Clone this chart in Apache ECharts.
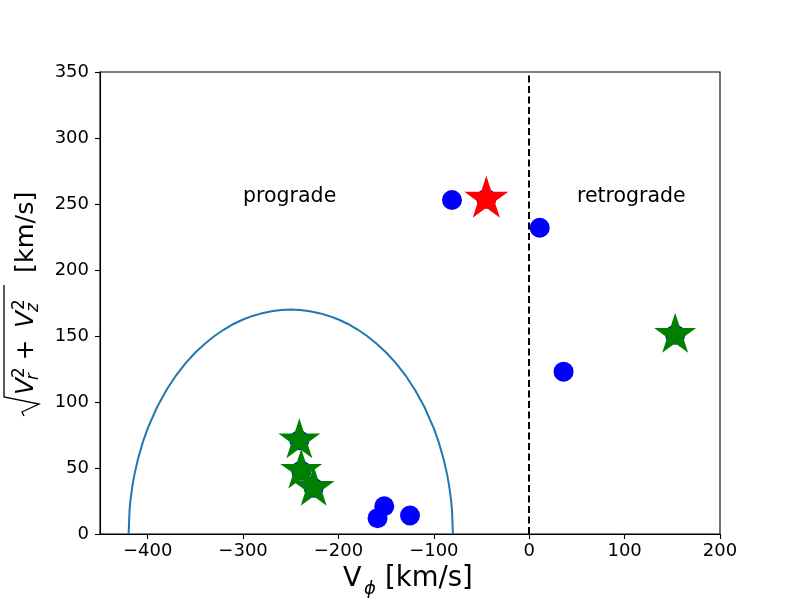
<!DOCTYPE html>
<html>
<head>
<meta charset="utf-8">
<script src="https://cdn.jsdelivr.net/npm/echarts@6/dist/echarts.min.js"></script>
<style>
  html, body { margin: 0; padding: 0; background: #fff; }
  #main { width: 800px; height: 600px; }
</style>
</head>
<body>
<div id="main"></div>
<script>
// tick labels
var xTicks = [-400, -300, -200, -100, 0, 100, 200];

// blue circles (some lie under the stars)
var blueX = [-81, 11, 36, -152, -159, -125, -45, 153, -241, -239, -226];
var blueY = [253, 232, 123, 21, 12, 14, 254, 151, 71, 48, 35];

// red star
var redX = [-45];
var redY = [254];

// green stars
var greenX = [153, -241, -239, -226];
var greenY = [151, 71, 48, 35];

// boundary curve
var curveX = [-420, -419, -418, -416, -414, -410, -405, -400, -390, -380, -370, -360, -350, -340, -330, -320, -310, -300, -290, -280, -270, -260, -250,
              -240, -230, -220, -210, -200, -190, -180, -170, -160, -150, -140, -130, -120, -110, -100, -95, -90, -86, -84, -82, -81, -80];
var curveY = [0, 18.4, 26, 36.7, 44.8, 57.4, 69.8, 80, 96.4, 109.5, 120.4, 129.6, 137.5, 144.2, 150, 154.9, 159.1, 162.5, 165.2, 167.3, 168.8, 169.7, 170,
              169.7, 168.8, 167.3, 165.2, 162.5, 159.1, 154.9, 150, 144.2, 137.5, 129.6, 120.4, 109.5, 96.4, 80, 69.8, 57.4, 44.8, 36.7, 26, 18.4, 0];

// region labels
var regionX = [-300, 50];
var regionY = [250, 250];
var regionText = ['prograde', 'retrograde'];

function pairs(xs, ys) {
    var out = [];
    for (var i = 0; i < xs.length; i++) out.push([xs[i], ys[i]]);
    return out;
}

var FONT = 'DejaVu Sans';
// 5-point star like matplotlib's '*' marker
var starPath = 'path://M50,0L61.23,34.55L97.55,34.55L68.17,55.9L79.39,90.45L50,69.1L20.61,90.45L31.83,55.9L2.45,34.55L38.77,34.55Z';

function tickFmt(v) {
    return v < 0 ? '\u2212' + Math.abs(v) : String(v);
}

var regionData = [];
for (var i = 0; i < regionX.length; i++) regionData.push([regionX[i], regionY[i], regionText[i]]);

var option = {
    backgroundColor: '#ffffff',
    animation: false,
    grid: {
        left: 100, right: 80, top: 72, bottom: 66,
        show: true, borderColor: '#000', borderWidth: 1.1, backgroundColor: 'transparent'
    },
    xAxis: {
        type: 'value',
        min: -450, max: 200,
        axisLine: { show: true, onZero: false, lineStyle: { color: '#000', width: 1.1 } },
        axisTick: { show: true, length: 5, customValues: xTicks, lineStyle: { color: '#000', width: 1.1 } },
        axisLabel: { customValues: xTicks, formatter: tickFmt, color: '#000', fontSize: 18, fontFamily: FONT, margin: 8 },
        splitLine: { show: false }
    },
    yAxis: {
        type: 'value',
        min: 0, max: 350, interval: 50,
        axisLine: { show: true, onZero: false, lineStyle: { color: '#000', width: 1.1 } },
        axisTick: { show: true, length: 5, lineStyle: { color: '#000', width: 1.1 } },
        axisLabel: { color: '#000', fontSize: 18, fontFamily: FONT, margin: 11 },
        splitLine: { show: false }
    },
    series: [
        {
            type: 'line',
            data: pairs(curveX, curveY),
            showSymbol: false,
            smooth: false,
            lineStyle: { color: '#1f77b4', width: 2 },
            markLine: {
                silent: true,
                symbol: ['none', 'none'],
                label: { show: false },
                lineStyle: { color: '#000', type: [7, 3.5], width: 2 },
                data: [{ xAxis: 0 }]
            },
            z: 2
        },
        {
            type: 'scatter',
            data: pairs(blueX, blueY),
            symbol: 'circle',
            symbolSize: 20,
            itemStyle: { color: '#0000ff', opacity: 1 },
            z: 3
        },
        {
            type: 'scatter',
            data: pairs(redX, redY),
            symbol: starPath,
            symbolKeepAspect: true,
            symbolSize: 44,
            symbolOffset: [0, -2],
            itemStyle: { color: '#ff0000', opacity: 1 },
            z: 4
        },
        {
            type: 'scatter',
            data: pairs(greenX, greenY),
            symbol: starPath,
            symbolKeepAspect: true,
            symbolSize: 42,
            symbolOffset: [0, -2],
            itemStyle: { color: '#008000', opacity: 1 },
            z: 5
        },
        {
            type: 'scatter',
            data: regionData,
            symbolSize: 0,
            itemStyle: { opacity: 1 },
            label: {
                show: true,
                position: 'right',
                distance: 0,
                offset: [0, -7],
                formatter: function (p) { return p.value[2]; },
                color: '#000000',
                opacity: 1,
                textBorderWidth: 0,
                fontSize: 20.5,
                fontFamily: FONT
            },
            z: 6
        }
    ],
    graphic: [
        // x axis title: V_phi [km/s]
        { type: 'text', x: 343, y: 579, style: { text: 'V', fontSize: 27, fontFamily: FONT, fill: '#000', verticalAlign: 'middle' } },
        { type: 'text', x: 364, y: 589, style: { text: '\u03d5', fontSize: 18, fontStyle: 'italic', fontFamily: FONT, fill: '#000', verticalAlign: 'middle' } },
        { type: 'text', x: 385, y: 579, style: { text: '[km/s]', fontSize: 27.5, fontFamily: FONT, fill: '#000', verticalAlign: 'middle' } },
        // y axis title: sqrt(V_r^2 + V_z^2) [km/s]
        {
            type: 'group',
            x: 35, y: 298,
            rotation: Math.PI / 2,
            children: [
                { type: 'polyline', shape: { points: [[-118, -11], [-114, -13], [-106, 4], [-99, -31], [13, -31]] }, style: { stroke: '#000', lineWidth: 1.3, fill: null } },
                { type: 'text', x: -97, y: -8.75, style: { text: 'V', fontSize: 25, fontStyle: 'italic', fontFamily: FONT, fill: '#000', verticalAlign: 'middle' } },
                { type: 'text', x: -80, y: -15, style: { text: '2', fontSize: 17, fontFamily: FONT, fill: '#000', verticalAlign: 'middle' } },
                { type: 'text', x: -82, y: -1, style: { text: 'r', fontSize: 17, fontStyle: 'italic', fontFamily: FONT, fill: '#000', verticalAlign: 'middle' } },
                { type: 'text', x: -52, y: -8.75, style: { text: '+', fontSize: 25, fontFamily: FONT, fill: '#000', align: 'center', verticalAlign: 'middle' } },
                { type: 'text', x: -30, y: -8.75, style: { text: 'V', fontSize: 25, fontStyle: 'italic', fontFamily: FONT, fill: '#000', verticalAlign: 'middle' } },
                { type: 'text', x: -12, y: -15, style: { text: '2', fontSize: 17, fontFamily: FONT, fill: '#000', verticalAlign: 'middle' } },
                { type: 'text', x: -14, y: -1, style: { text: 'z', fontSize: 17, fontStyle: 'italic', fontFamily: FONT, fill: '#000', verticalAlign: 'middle' } },
                { type: 'text', x: 25, y: -8.75, style: { text: '[km/s]', fontSize: 25.5, fontFamily: FONT, fill: '#000', verticalAlign: 'middle' } }
            ]
        }
    ]
};

var myChart = echarts.init(document.getElementById('main'));
myChart.setOption(option);
</script>
</body>
</html>
